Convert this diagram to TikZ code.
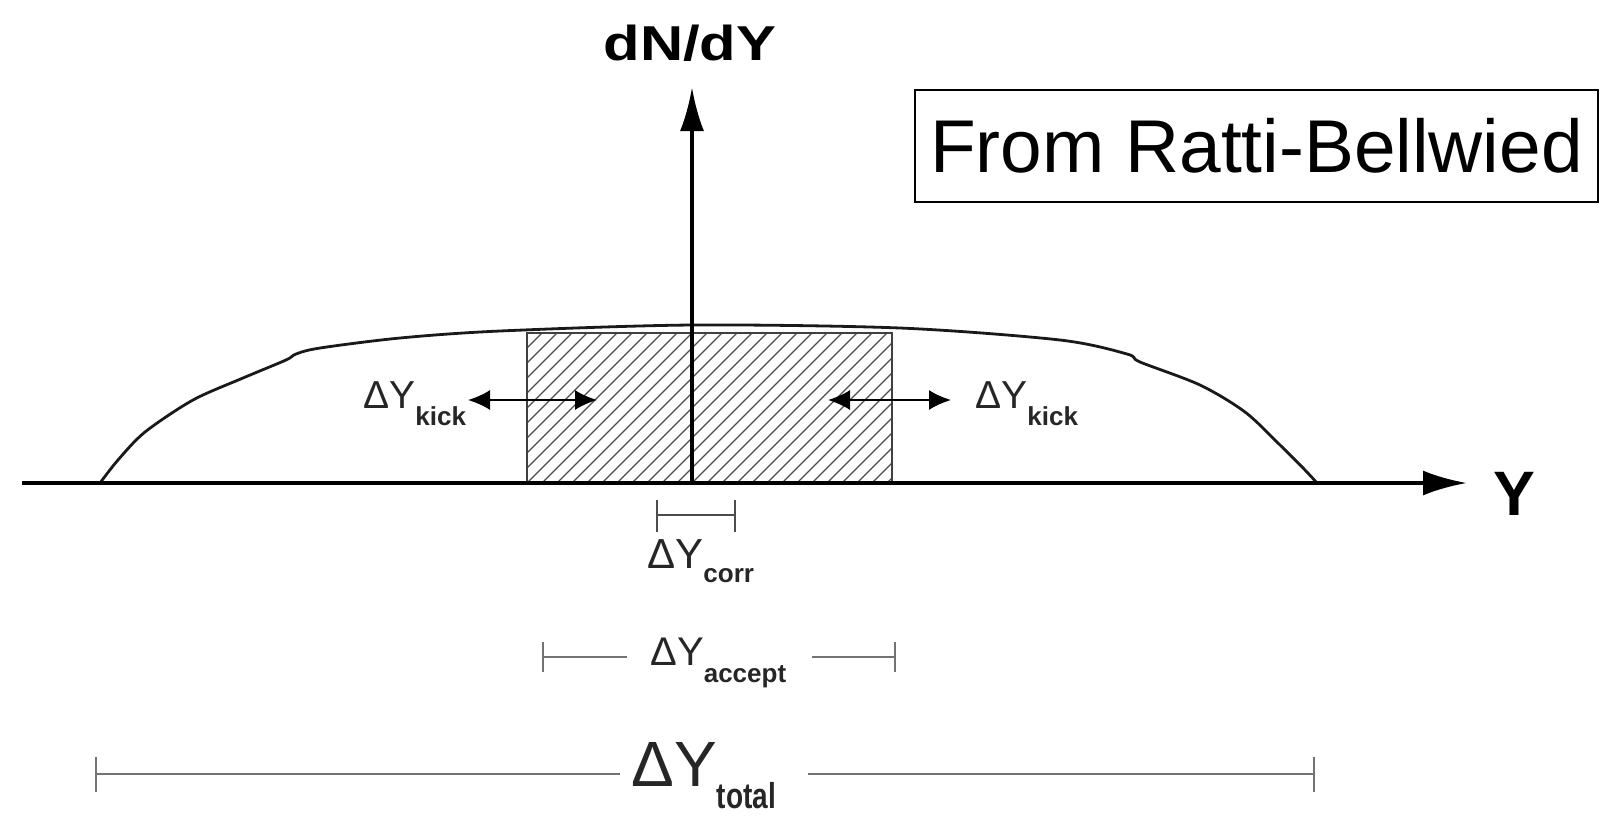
\documentclass[tikz,border=0pt]{standalone}
\usepackage{fontspec}
\setmainfont{Liberation Sans}
\usetikzlibrary{arrows.meta}
\tikzset{
  axisline/.style={line width=2pt, black},
  curveline/.style={line width=1.4pt, black!90},
  rectline/.style={line width=1pt, black!75},
  hatchline/.style={line width=0.6pt, black!70},
  kickarrow/.style={line width=1pt, black, {Latex[length=11pt,width=10pt]}-{Latex[length=11pt,width=10pt]}},
  barline/.style={line width=1.2pt, black!55},
  corrline/.style={line width=1pt, black!70},
  lbl/.style={anchor=base west, inner sep=0pt, text=black!85},
}
\begin{document}
\begin{tikzpicture}[x=0.5pt,y=-0.5pt]
\useasboundingbox (0,0) rectangle (1603,816);
% coordinates
\coordinate (xstart) at (22,483);
\coordinate (xend) at (1467,483);
\coordinate (orig) at (692,483);
\coordinate (ytop) at (692,87);
% hatched acceptance region
\begin{scope}
  \clip (527,333) rectangle (892,483);
  \foreach \i in {0,...,36} \draw[hatchline] (377+\i*15,483) -- ++(150,-150);
\end{scope}
\draw[rectline] (527,333) rectangle (892,483);
% distribution curve
\draw[curveline] plot[smooth, tension=0.5] coordinates {(100,483) (118,460) (145,432) (193,400) (243,378) (286,360) (296,354) (320,348) (400,338) (500,331) (692,325) (900,328) (1060,340) (1127,354) (1140,362) (1200,385) (1245,412) (1280,445) (1305,470) (1317,483)};
% axes
\draw[axisline, -{Latex[length=22pt,width=12.5pt]}] (xstart) -- (xend);
\draw[axisline, -{Latex[length=22pt,width=12pt]}] (orig) -- (ytop);
\node[anchor=base, inner sep=0pt] (dndy) at (690,60) {\fontsize{24.5}{26}\selectfont\scalebox{1.22}[1]{\bfseries dN/dY}};
\node[anchor=base west, inner sep=0pt] (ylab) at (1493,515) {\fontsize{31.4}{33}\selectfont\bfseries Y};
% kick arrows
\coordinate (kl1) at (468,400);
\coordinate (kl2) at (597,400);
\coordinate (kr1) at (828,400);
\coordinate (kr2) at (951,400);
\draw[kickarrow] (kl1) -- (kl2);
\draw[kickarrow] (kr1) -- (kr2);
\node[lbl] (kickL) at (363,408) {\fontsize{19.5}{20}\selectfont ΔY\raisebox{-8.5pt}{\fontsize{13}{13}\selectfont\bfseries kick}};
\node[lbl] (kickR) at (975,408) {\fontsize{19.5}{20}\selectfont ΔY\raisebox{-8.5pt}{\fontsize{13}{13}\selectfont\bfseries kick}};
% corr bar
\coordinate (c1) at (657,515);
\coordinate (c2) at (735,515);
\draw[corrline] (c1) -- (c2);
\draw[corrline] (657,500) -- (657,532);
\draw[corrline] (735,500) -- (735,532);
\node[lbl] (corr) at (647,568) {\fontsize{21}{21}\selectfont ΔY\raisebox{-7pt}{\fontsize{13}{13}\selectfont\bfseries corr}};
% accept bar
\coordinate (a1) at (543,657);
\coordinate (a2) at (627,657);
\coordinate (a3) at (812,657);
\coordinate (a4) at (895,657);
\draw[barline] (a1) -- (a2);
\draw[barline] (a3) -- (a4);
\draw[barline] (543,642) -- (543,672);
\draw[barline] (895,642) -- (895,672);
\node[lbl] (accept) at (650,665) {\fontsize{20}{20}\selectfont ΔY\raisebox{-8.5pt}{\fontsize{13}{13}\selectfont\bfseries accept}};
% total bar
\coordinate (t1) at (96,774);
\coordinate (t2) at (620,774);
\coordinate (t3) at (808,774);
\coordinate (t4) at (1314,774);
\draw[barline] (t1) -- (t2);
\draw[barline] (t3) -- (t4);
\draw[barline] (96,757) -- (96,792);
\draw[barline] (1314,757) -- (1314,792);
\node[lbl] (total) at (631,786) {\fontsize{32}{32}\selectfont ΔY\raisebox{-11pt}{\fontsize{18}{18}\selectfont\scalebox{0.78}[1]{\bfseries total}}};
% source box
\node[draw, line width=1pt, minimum width=341.5pt, minimum height=56pt, inner sep=0pt] (src) at (1256.5,146) {\fontsize{37.4}{40}\selectfont From Ratti-Bellwied};
\end{tikzpicture}
\end{document}
